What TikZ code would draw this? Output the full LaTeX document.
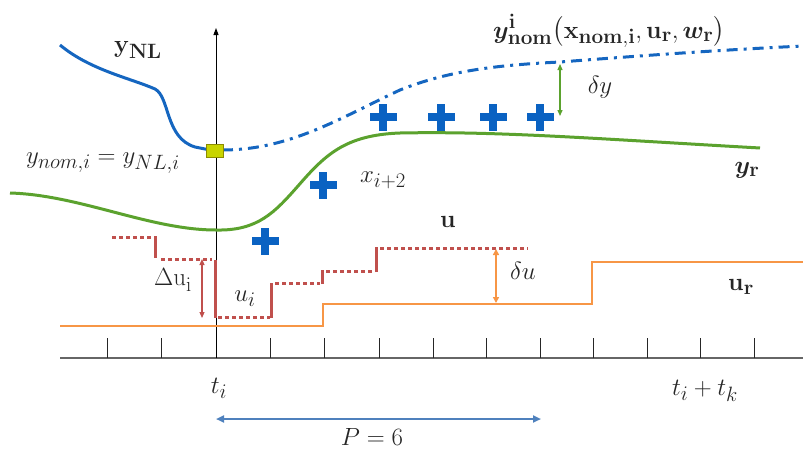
\documentclass[tikz,border=0pt]{standalone}
\usepackage{amsmath}
\usepackage{bm}
\usetikzlibrary{arrows.meta}
\definecolor{cblue}{HTML}{1566C0}
\definecolor{cgreen}{HTML}{5BA22E}
\definecolor{corange}{HTML}{F79646}
\definecolor{cred}{HTML}{C0504D}
\definecolor{cplus}{HTML}{0A62C2}
\definecolor{carrow}{HTML}{4F81BD}
\definecolor{csq}{HTML}{C8D400}
\definecolor{csqb}{HTML}{8C8C00}
\definecolor{ctext}{HTML}{262626}
\tikzset{
  lbl/.style={inner sep=0pt, text=ctext, font=\fontsize{29}{34}\selectfont},
  tick/.style={black!85, line width=0.9pt},
  udot/.style={cred, line width=3pt, dash pattern=on 4pt off 3pt},
  usol/.style={cred, line width=3pt},
  plusmark/.pic={\fill[cplus] (-13.5,-4) rectangle (13.5,4); \fill[cplus] (-4,-13.5) rectangle (4,13.5);}
}
\begin{document}
\begin{tikzpicture}[x=1pt,y=-1pt]
\useasboundingbox (0,0) rectangle (803,455);
% axes
\coordinate (ax0) at (60,358);
\coordinate (ax1) at (803,358);
\draw[gray!80!black, line width=1.8pt] (ax0) -- (ax1);
\coordinate (vb) at (216,358);
\coordinate (vt) at (216,28);
\draw[black, line width=0.9pt, -{Triangle[width=5pt,length=7pt]}] (vb) -- (vt);
\foreach \x in {107,161,270,324,379,433,486,540,593,647,700,754}{
  \draw[tick] (\x,358) -- (\x,338);
}
% reference input u_r
\coordinate (ur0) at (60,326);
\coordinate (ur1) at (323,326);
\coordinate (ur2) at (323,304);
\coordinate (ur3) at (592,304);
\coordinate (ur4) at (592,262);
\coordinate (ur5) at (803,262);
\draw[corange, line width=2.8pt] (ur0) -- (ur1) -- (ur2) -- (ur3) -- (ur4) -- (ur5);
% control input u
\draw[udot] (112,237) -- (154,237);
\draw[usol] (155,236) -- (155,258);
\draw[udot] (161,259) -- (212,259);
\draw[usol] (215,260) -- (215,318);
\draw[udot] (218,317) -- (270,317);
\draw[usol] (271,318) -- (271,283);
\draw[udot] (275,283) -- (320,283);
\draw[usol] (322,284) -- (322,270);
\draw[udot] (326,271) -- (374,271);
\draw[usol] (376,272) -- (376,247);
\draw[udot] (380,248) -- (528,248);
% delta u_i arrow
\coordinate (dui0) at (202,259);
\coordinate (dui1) at (202,318);
\draw[cred, line width=1.1pt, {Triangle[width=5pt,length=6pt]}-{Triangle[width=5pt,length=6pt]}] (dui0) -- (dui1);
% delta u arrow
\coordinate (du0) at (496,249);
\coordinate (du1) at (496,303);
\draw[corange, line width=2pt, {Triangle[width=6pt,length=6pt]}-{Triangle[width=6pt,length=6pt]}] (du0) -- (du1);
% y_r green
\draw[cgreen, line width=3pt] (10,193) .. controls (80,195) and (150,230) .. (216,230)
  .. controls (258,231) and (275,212) .. (298,186)
  .. controls (325,155) and (345,135) .. (400,133)
  .. controls (500,131) and (600,139) .. (760,148);
% y_NL blue
\draw[cblue, line width=3pt] (60,45) .. controls (90,70) and (130,78) .. (155,89)
  .. controls (170,97) and (165,138) .. (195,147) -- (210,150);
% y_nom dash-dot
\draw[cblue, line width=3pt, dash pattern=on 11pt off 6pt on 3pt off 6pt]
  (222,150) .. controls (290,150) and (340,118) .. (400,90)
  .. controls (450,70) and (500,65) .. (560,62)
  .. controls (650,55) and (720,50) .. (803,46);
% square
\node[draw=csqb, fill=csq, line width=1pt, minimum width=17pt, minimum height=13pt, inner sep=0pt] (sq) at (215,151) {};
% delta y arrow
\coordinate (dy0) at (560,64);
\coordinate (dy1) at (560,116);
\draw[cgreen, line width=1.3pt, {Triangle[width=5pt,length=6pt]}-{Triangle[width=5pt,length=6pt]}] (dy0) -- (dy1);
% crosses
\foreach \px/\py in {265/241, 323/185, 383/117, 441/117, 493/117, 540/117}{
  \pic at (\px,\py) {plusmark};
}
% horizon arrow
\coordinate (p0) at (216,419);
\coordinate (p1) at (541,419);
\draw[carrow, line width=2pt, {Triangle[width=7pt,length=8pt]}-{Triangle[width=7pt,length=8pt]}] (p0) -- (p1);
% labels
\node[lbl] (lynl) at (138,50) {$\mathbf{y}_{\mathbf{NL}}$};
\node[lbl, anchor=base] (lynom) at (609,38) {$\bm{y}^{\mathbf{i}}_{\mathbf{nom}}\bigl(\mathbf{x}_{\mathbf{nom,i}},\mathbf{u}_{\mathbf{r}},\bm{w}_{\mathbf{r}}\bigr)$};
\node[lbl] (leq) at (103,163) {$y_{nom,i}=y_{NL,i}$};
\node[lbl] (lx) at (383,180) {$x_{i+2}$};
\node[lbl] (ldy) at (600,87) {$\delta y$};
\node[lbl] (lyr) at (747,170) {$\bm{y}_{\mathbf{r}}$};
\node[lbl] (lu) at (448,222) {$\mathbf{u}$};
\node[lbl] (ldu) at (523,271) {$\delta u$};
\node[lbl] (lur) at (741,287) {$\mathbf{u}_{\mathbf{r}}$};
\node[lbl] (ldui) at (173,280) {$\Delta\mathrm{u}_{\mathrm{i}}$};
\node[lbl] (lui) at (245,299) {$u_i$};
\node[lbl] (lti) at (219,388) {$t_i$};
\node[lbl] (ltk) at (705,391) {$t_i+t_k$};
\node[lbl] (lP) at (372,437) {$P=6$};
\end{tikzpicture}
\end{document}
